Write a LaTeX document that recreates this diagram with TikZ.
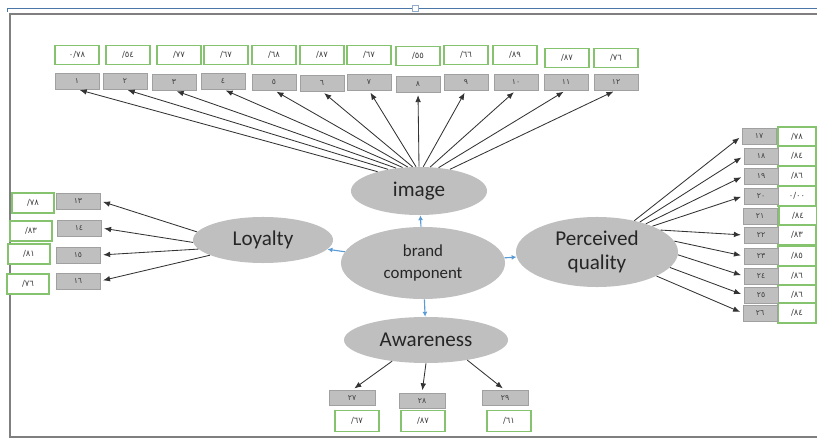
\documentclass[tikz,border=0pt]{standalone}
\usepackage{fontspec}
\setmainfont{Carlito}
\newfontfamily\numfont{DejaVu Sans}
\usetikzlibrary{shapes.geometric,arrows.meta}
\definecolor{boxgreen}{HTML}{86C36F}
\definecolor{boxgray}{HTML}{BFBFBF}
\definecolor{boxedge}{HTML}{A0A0A0}
\definecolor{factorgray}{HTML}{BFBFBF}
\definecolor{linkblue}{HTML}{5B9BD5}
\definecolor{framegray}{HTML}{7F7F7F}
\definecolor{rulerblue}{HTML}{4A76A8}

\begin{document}
\begin{tikzpicture}[x=0.025cm, y=-0.025cm,
  factor/.style={ellipse, fill=factorgray, inner sep=0pt, font=\fontsize{15}{17}\selectfont, text=black!85, align=center},
  numbox/.style={draw=boxedge, fill=boxgray, minimum width=1.1cm, minimum height=0.4cm, inner sep=0pt, font=\numfont\fontsize{5.5}{6}\selectfont, text=black!75},
  valbox/.style={draw=boxgreen, fill=white, line width=0.8pt, minimum width=1.1cm, minimum height=0.47cm, inner sep=0pt, font=\numfont\fontsize{6}{7}\selectfont, text=black!75},
  link/.style={->, >={Latex[length=5pt,width=4pt]}, black!80, line width=0.6pt, shorten >=2pt},
  blink/.style={->, >={Latex[length=3.5pt,width=3.5pt]}, linkblue, line width=0.8pt}]
\useasboundingbox (0,0) rectangle (817,439);

% Rahmen
\draw[framegray, line width=1.4pt] (817,14) -- (10,14) -- (10,437) -- (817,437);
\draw[rulerblue, line width=0.6pt] (7,12) -- (7,8) -- (817,8);
\draw[rulerblue!60, line width=0.4pt, fill=white] (412,5) rectangle (418,11);

% Faktoren
\node[factor, minimum width=3.4cm, minimum height=1.2cm] (img) at (419,191) {image};
\node[factor, minimum width=3.5cm, minimum height=1.15cm] (loy) at (263,240) {Loyalty};
\node[factor, minimum width=4.1cm, minimum height=1.8cm, font=\fontsize{12}{15}\selectfont] (brand) at (423,263) {brand\\component};
\node[factor, minimum width=4.05cm, minimum height=1.75cm] (perc) at (597,252) {Perceived\\quality};
\node[factor, minimum width=4.1cm, minimum height=1.15cm] (awa) at (426,340) {Awareness};

\draw[blink] (brand) -- (img);
\draw[blink] (brand) -- (loy);
\draw[blink] (brand) -- (perc);
\draw[blink] (brand) -- (awa);

% image: 1-12
\node[valbox] (v1) at (77,55) {٠/٧٨};
\node[valbox] (v2) at (128,55) {/٥٤};
\node[valbox] (v3) at (179,55) {/٧٧};
\node[valbox] (v4) at (226,55) {/٦٧};
\node[valbox] (v5) at (274,55) {/٦٨};
\node[valbox] (v6) at (322,55) {/٨٧};
\node[valbox] (v7) at (369,55) {/٦٧};
\node[valbox] (v8) at (418,56) {/٥٥};
\node[valbox] (v9) at (466,55) {/٦٦};
\node[valbox] (v10) at (515,55) {/٨٩};
\node[valbox] (v11) at (567,58) {/٨٧};
\node[valbox] (v12) at (616,58) {/٧٦};
\node[numbox] (g1) at (77,81) {١};
\node[numbox] (g2) at (125,81) {٢};
\node[numbox] (g3) at (174,82) {٣};
\node[numbox] (g4) at (223,81) {٤};
\node[numbox] (g5) at (274,82) {٥};
\node[numbox] (g6) at (322,83) {٦};
\node[numbox] (g7) at (369,82) {٧};
\node[numbox] (g8) at (418,84) {٨};
\node[numbox] (g9) at (466,82) {٩};
\node[numbox] (g10) at (516,82) {١٠};
\node[numbox] (g11) at (566,82) {١١};
\node[numbox] (g12) at (616,82) {١٢};
\draw[link] (img.155) -- (g1.south);
\draw[link] (img.145) -- (g2.south);
\draw[link] (img.135) -- (g3.south);
\draw[link] (img.125) -- (g4.south);
\draw[link] (img.115) -- (g5.south);
\draw[link] (img.105) -- (g6.south);
\draw[link] (img.97) -- (g7.south);
\draw[link] (img.90) -- (g8.south);
\draw[link] (img.80) -- (g9.south);
\draw[link] (img.65) -- (g10.south);
\draw[link] (img.50) -- (g11.south);
\draw[link] (img.35) -- (g12.south);

% Loyalty: 13-16
\node[valbox, minimum width=1.05cm, minimum height=0.5cm] (v13) at (33,203) {/٧٨};
\node[valbox, minimum width=1.05cm, minimum height=0.5cm] (v14) at (31,231) {/٨٣};
\node[valbox, minimum width=1.05cm, minimum height=0.5cm] (v15) at (29,254) {/٨١};
\node[valbox, minimum width=1.05cm, minimum height=0.5cm] (v16) at (28,284) {/٧٦};
\node[numbox] (g13) at (78,201) {١٣};
\node[numbox] (g14) at (79,228) {١٤};
\node[numbox] (g15) at (78,255) {١٥};
\node[numbox] (g16) at (78,281) {١٦};
\draw[link] (loy.173) -- (g13.east);
\draw[link] (loy.182) -- (g14.east);
\draw[link] (loy.188) -- (g15.east);
\draw[link] (loy.196) -- (g16.east);

% Perceived quality: 17-26
\node[valbox, minimum width=0.95cm, minimum height=0.5cm] (v17) at (797,137) {/٧٨};
\node[valbox, minimum width=0.95cm, minimum height=0.5cm] (v18) at (797,156) {/٨٤};
\node[valbox, minimum width=0.95cm, minimum height=0.5cm] (v19) at (797,176) {/٨٦};
\node[valbox, minimum width=0.95cm, minimum height=0.5cm] (v20) at (797,196) {٠/٠٠};
\node[valbox, minimum width=0.95cm, minimum height=0.5cm] (v21) at (798,216) {/٨٤};
\node[valbox, minimum width=0.95cm, minimum height=0.5cm] (v22) at (797,235) {/٨٣};
\node[valbox, minimum width=0.95cm, minimum height=0.5cm] (v23) at (797,256) {/٨٥};
\node[valbox, minimum width=0.95cm, minimum height=0.5cm] (v24) at (797,276) {/٨٦};
\node[valbox, minimum width=0.95cm, minimum height=0.5cm] (v25) at (797,295) {/٨٦};
\node[valbox, minimum width=0.95cm, minimum height=0.5cm] (v26) at (797,313) {/٨٤};
\node[numbox, minimum width=0.85cm] (g17) at (759,136) {١٧};
\node[numbox, minimum width=0.85cm] (g18) at (761,156) {١٨};
\node[numbox, minimum width=0.85cm] (g19) at (761,176) {١٩};
\node[numbox, minimum width=0.85cm] (g20) at (761,196) {٢٠};
\node[numbox, minimum width=0.85cm] (g21) at (760,216) {٢١};
\node[numbox, minimum width=0.85cm] (g22) at (761,235) {٢٢};
\node[numbox, minimum width=0.85cm] (g23) at (761,256) {٢٣};
\node[numbox, minimum width=0.85cm] (g24) at (761,276) {٢٤};
\node[numbox, minimum width=0.85cm] (g25) at (761,295) {٢٥};
\node[numbox, minimum width=0.85cm] (g26) at (760,313) {٢٦};
\draw[link] (perc.40) -- (g17.west);
\draw[link] (perc.35) -- (g18.west);
\draw[link] (perc.30) -- (g19.west);
\draw[link] (perc.25) -- (g20.west);
\draw[link] (perc.19) -- (g22.west);
\draw[link] (perc.8) -- (g23.west);
\draw[link] (perc.-2) -- (g24.west);
\draw[link] (perc.-12) -- (g25.west);
\draw[link] (perc.-22) -- (g26.west);

% Awareness: 27-29
\node[numbox, minimum width=1.15cm, minimum height=0.38cm] (g27) at (352,398) {٢٧};
\node[numbox, minimum width=1.15cm, minimum height=0.38cm] (g28) at (422,401) {٢٨};
\node[numbox, minimum width=1.15cm, minimum height=0.38cm] (g29) at (505,398) {٢٩};
\node[valbox, minimum height=0.52cm] (v27) at (357,421) {/٦٧};
\node[valbox, minimum height=0.52cm] (v28) at (423,421) {/٨٧};
\node[valbox, minimum height=0.52cm] (v29) at (509,421) {/٦١};
\draw[link] (awa.212) -- (g27.north);
\draw[link] (awa.270) -- (g28.north);
\draw[link] (awa.334) -- (g29.north);
\end{tikzpicture}
\end{document}
